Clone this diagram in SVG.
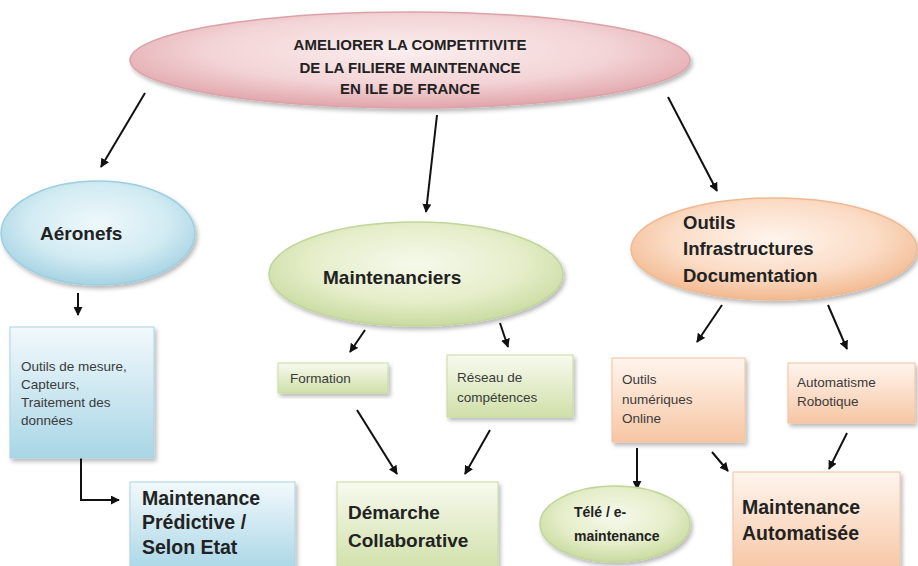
<svg xmlns="http://www.w3.org/2000/svg" width="918" height="566" viewBox="0 0 918 566">
<defs>
<style>
.t{font-family:"Liberation Sans",Arial,sans-serif;fill:#222}
.b{font-weight:bold}
.s{font-size:13.5px;fill:#3a3a3a}
.c{stroke:#111;stroke-width:2;fill:none;marker-end:url(#ah)}
</style>
<marker id="ah" viewBox="0 0 10 10" refX="9" refY="5" markerWidth="4.5" markerHeight="4.5" orient="auto" markerUnits="strokeWidth">
<path d="M0,0 L10,5 L0,10 Z" fill="#111"/>
</marker>
<filter id="sh" x="-10%" y="-10%" width="125%" height="130%">
<feDropShadow dx="2" dy="3" stdDeviation="2" flood-color="#000" flood-opacity="0.28"/>
</filter>
<radialGradient id="gPink" cx="50%" cy="40%" r="60%">
<stop offset="0" stop-color="#fbeeef"/><stop offset="0.6" stop-color="#f3d4d6"/><stop offset="1" stop-color="#e1a5ab"/>
</radialGradient>
<radialGradient id="gBlueE" cx="50%" cy="40%" r="60%">
<stop offset="0" stop-color="#eef8fb"/><stop offset="0.6" stop-color="#d2ebf3"/><stop offset="1" stop-color="#a6d3e3"/>
</radialGradient>
<radialGradient id="gGreenE" cx="50%" cy="40%" r="60%">
<stop offset="0" stop-color="#f6f9ec"/><stop offset="0.6" stop-color="#e5eeca"/><stop offset="1" stop-color="#c9dba0"/>
</radialGradient>
<radialGradient id="gPeachE" cx="50%" cy="40%" r="60%">
<stop offset="0" stop-color="#fff4ec"/><stop offset="0.6" stop-color="#fbdcc6"/><stop offset="1" stop-color="#f2b990"/>
</radialGradient>
<linearGradient id="gBlue" x1="0" y1="0" x2="0" y2="1">
<stop offset="0" stop-color="#f2f9fc"/><stop offset="1" stop-color="#a9d6e6"/>
</linearGradient>
<linearGradient id="gGreen" x1="0" y1="0" x2="0" y2="1">
<stop offset="0" stop-color="#f7faee"/><stop offset="1" stop-color="#d0e0a9"/>
</linearGradient>
<linearGradient id="gPeach" x1="0" y1="0" x2="0" y2="1">
<stop offset="0" stop-color="#fff5ee"/><stop offset="1" stop-color="#f7c6a4"/>
</linearGradient>
</defs>
<rect width="918" height="566" fill="#ffffff"/>

<g id="connectors">
<line class="c" x1="145" y1="93" x2="101" y2="167"/>
<line class="c" x1="437" y1="115" x2="426" y2="212"/>
<line class="c" x1="668" y1="97" x2="717" y2="191"/>
<line class="c" x1="78" y1="293" x2="78" y2="315"/>
<polyline class="c" points="81,458 81,500 119,500"/>
<line class="c" x1="365" y1="330" x2="350" y2="352"/>
<line class="c" x1="500" y1="323" x2="508" y2="347"/>
<line class="c" x1="357" y1="410" x2="397" y2="474"/>
<line class="c" x1="490" y1="430" x2="465" y2="474"/>
<line class="c" x1="722" y1="305" x2="697" y2="342"/>
<line class="c" x1="828" y1="305" x2="847" y2="349"/>
<line class="c" x1="637" y1="448" x2="637" y2="489"/>
<line class="c" x1="712" y1="452" x2="728" y2="471"/>
<line class="c" x1="847" y1="433" x2="829" y2="469"/>
</g>

<g id="root">
<ellipse cx="410" cy="60" rx="280" ry="48" fill="url(#gPink)" stroke="#dba3a8" stroke-width="1.5" filter="url(#sh)"/>
<text class="t b" font-size="15" text-anchor="middle"><tspan x="410" y="50">AMELIORER LA COMPETITIVITE</tspan><tspan x="410" y="73">DE LA FILIERE MAINTENANCE</tspan><tspan x="410" y="94">EN ILE DE FRANCE</tspan></text>
</g>

<g id="aeronefs">
<ellipse cx="98" cy="233" rx="97" ry="52" fill="url(#gBlueE)" stroke="#9ccfe0" stroke-width="1.5" filter="url(#sh)"/>
<text class="t b" font-size="19" x="40" y="240">Aéronefs</text>
</g>

<g id="outils-mesure">
<rect x="10" y="327" width="144" height="131" fill="url(#gBlue)" stroke="#a9d3e2" filter="url(#sh)"/>
<text class="t s"><tspan x="21" y="371">Outils de mesure,</tspan><tspan x="21" y="389">Capteurs,</tspan><tspan x="21" y="407">Traitement des</tspan><tspan x="21" y="425">données</tspan></text>
</g>

<g id="predictive">
<rect x="130" y="482" width="165" height="90" fill="url(#gBlue)" stroke="#a9d3e2" filter="url(#sh)"/>
<text class="t b" font-size="19.5"><tspan x="142" y="505">Maintenance</tspan><tspan x="142" y="529">Prédictive /</tspan><tspan x="142" y="554">Selon Etat</tspan></text>
</g>

<g id="maintenanciers">
<ellipse cx="416" cy="274" rx="147" ry="52" fill="url(#gGreenE)" stroke="#c2d59a" stroke-width="1.5" filter="url(#sh)"/>
<text class="t b" font-size="19" x="323" y="284">Maintenanciers</text>
</g>

<g id="formation">
<rect x="278" y="363" width="110" height="30" fill="url(#gGreen)" stroke="#c9daa1" filter="url(#sh)"/>
<text class="t s" x="290" y="383">Formation</text>
</g>

<g id="reseau">
<rect x="447" y="355" width="126" height="62" fill="url(#gGreen)" stroke="#c9daa1" filter="url(#sh)"/>
<text class="t s"><tspan x="457" y="382">Réseau de</tspan><tspan x="457" y="402">compétences</tspan></text>
</g>

<g id="demarche">
<rect x="337" y="482" width="161" height="90" fill="url(#gGreen)" stroke="#c9daa1" filter="url(#sh)"/>
<text class="t b" font-size="19"><tspan x="348" y="519">Démarche</tspan><tspan x="348" y="547">Collaborative</tspan></text>
</g>

<g id="outils-infra">
<ellipse cx="774" cy="249" rx="143" ry="51" fill="url(#gPeachE)" stroke="#f0b990" stroke-width="1.5" filter="url(#sh)"/>
<text class="t b" font-size="18.5"><tspan x="683" y="229">Outils</tspan><tspan x="683" y="255">Infrastructures</tspan><tspan x="683" y="282">Documentation</tspan></text>
</g>

<g id="outils-numeriques">
<rect x="612" y="358" width="133" height="84" fill="url(#gPeach)" stroke="#f2c2a0" filter="url(#sh)"/>
<text class="t s"><tspan x="622" y="384">Outils</tspan><tspan x="622" y="404">numériques</tspan><tspan x="622" y="423">Online</tspan></text>
</g>

<g id="automatisme">
<rect x="788" y="363" width="127" height="60" fill="url(#gPeach)" stroke="#f2c2a0" filter="url(#sh)"/>
<text class="t s"><tspan x="797" y="387">Automatisme</tspan><tspan x="797" y="406">Robotique</tspan></text>
</g>

<g id="tele">
<ellipse cx="615" cy="524" rx="75" ry="38" fill="url(#gGreenE)" stroke="#c2d59a" stroke-width="1.5" filter="url(#sh)"/>
<text class="t b" font-size="14"><tspan x="574" y="517">Télé / e-</tspan><tspan x="574" y="541">maintenance</tspan></text>
</g>

<g id="maint-auto">
<rect x="733" y="472" width="167" height="100" fill="url(#gPeach)" stroke="#f2c2a0" filter="url(#sh)"/>
<text class="t b" font-size="19.5"><tspan x="742" y="514">Maintenance</tspan><tspan x="742" y="540">Automatisée</tspan></text>
</g>
</svg>
